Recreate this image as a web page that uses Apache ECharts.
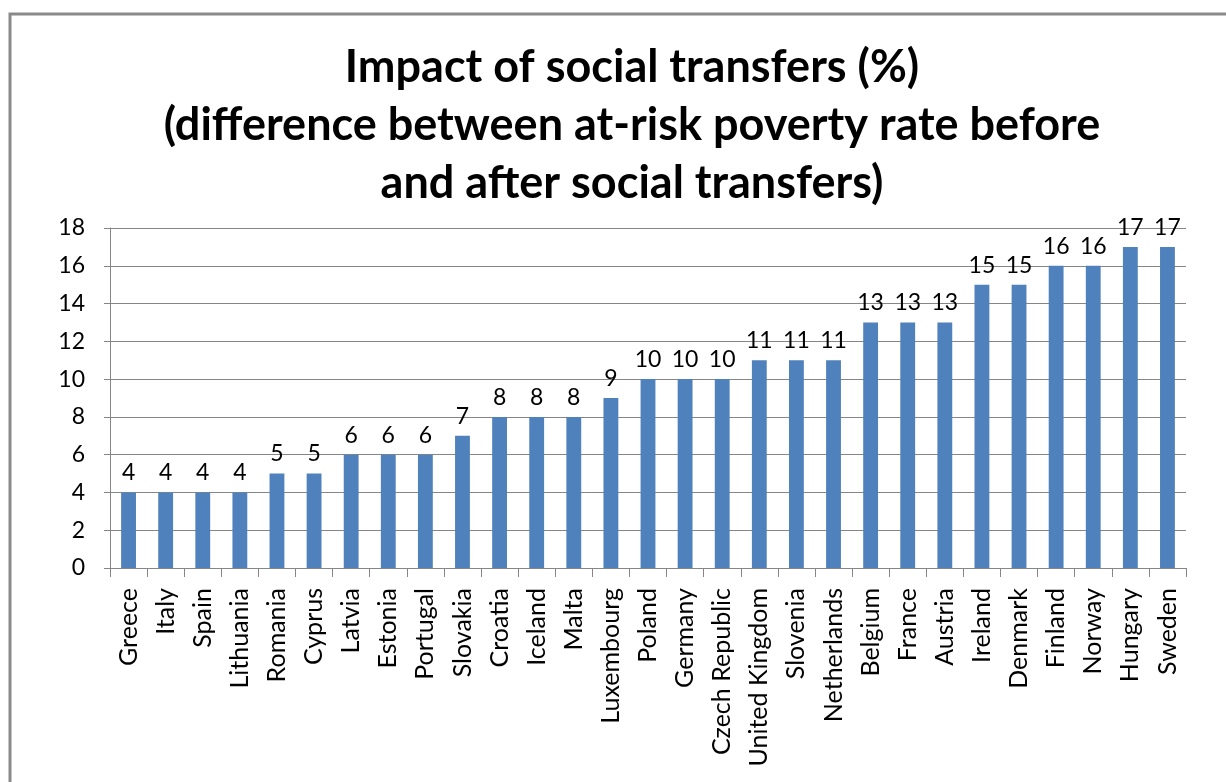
<!DOCTYPE html>
<html>
<head>
<meta charset="utf-8">
<title>Impact of social transfers</title>
<script src="https://cdn.jsdelivr.net/npm/echarts@6/dist/echarts.min.js"></script>
<style>
  html, body { margin: 0; padding: 0; background: #fff; }
  #main { width: 1226px; height: 782px; }
</style>
</head>
<body>
<div id="main"></div>
<script>
// data
var countries = ['Greece', 'Italy', 'Spain', 'Lithuania', 'Romania', 'Cyprus', 'Latvia', 'Estonia',
  'Portugal', 'Slovakia', 'Croatia', 'Iceland', 'Malta', 'Luxembourg', 'Poland', 'Germany',
  'Czech Republic', 'United Kingdom', 'Slovenia', 'Netherlands', 'Belgium', 'France', 'Austria',
  'Ireland', 'Denmark', 'Finland', 'Norway', 'Hungary', 'Sweden'];
var impact = [4, 4, 4, 4, 5, 5, 6, 6, 6, 7, 8, 8, 8, 9, 10, 10, 10, 11, 11, 11, 13, 13, 13, 15, 15, 16, 16, 17, 17];
var titleLines = ['Impact of social transfers (%)',
  '(difference between at-risk poverty rate before',
  'and after social transfers)'];

var myChart = echarts.init(document.getElementById('main'));
var font = 'Lato, "Open Sans", sans-serif';

var option = {
  animation: false,
  backgroundColor: '#fff',
  title: {
    text: titleLines.join('\n'),
    left: 627,
    textAlign: 'center',
    top: 33,
    textStyle: {
      fontFamily: font,
      fontWeight: 'bold',
      fontSize: 45,
      lineHeight: 58,
      color: '#000'
    }
  },
  graphic: [{
    // outer frame (left and top edges visible)
    type: 'polyline',
    shape: { points: [[10, 782], [10, 14], [1226, 14]] },
    style: { stroke: '#8a8a8a', lineWidth: 3, fill: null }
  }],
  grid: {
    left: 110,
    right: 40,
    top: 228,
    bottom: 214
  },
  xAxis: {
    type: 'category',
    data: countries,
    axisLine: { lineStyle: { color: '#868686', width: 1 } },
    axisTick: { show: true, length: 9, lineStyle: { color: '#868686' } },
    axisLabel: {
      interval: 0,
      rotate: 90,
      margin: 20,
      fontFamily: font,
      fontSize: 25,
      color: '#000'
    }
  },
  yAxis: {
    type: 'value',
    min: 0,
    max: 18,
    interval: 2,
    axisLine: { show: true, lineStyle: { color: '#868686' } },
    axisTick: { show: true, length: 6, lineStyle: { color: '#868686' } },
    axisLabel: {
      margin: 25,
      fontFamily: font,
      fontSize: 23,
      color: '#000'
    },
    splitLine: { lineStyle: { color: '#868686', width: 1 } }
  },
  series: [{
    type: 'bar',
    data: impact,
    barWidth: '40%',
    itemStyle: { color: '#4f81bd' },
    label: {
      show: true,
      position: 'top',
      distance: 8,
      fontFamily: font,
      fontSize: 23,
      color: '#000'
    }
  }]
};
myChart.setOption(option);
</script>
</body>
</html>
